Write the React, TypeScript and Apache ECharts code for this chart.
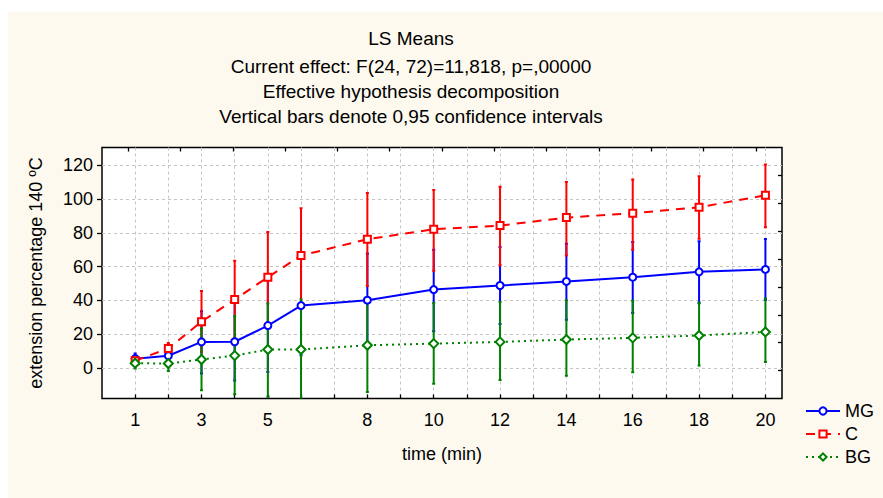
import React, { useEffect, useRef } from "react";
import * as echarts from "echarts";

const FONT = '"Liberation Sans", Arial, sans-serif';

const times = [1, 2, 3, 4, 5, 6, 8, 10, 12, 14, 16, 18, 20];
const xTickValues = [1, 2, 3, 4, 5, 6, 7, 8, 9, 10, 11, 12, 13, 14, 15, 16, 17, 18, 19, 20];
const xLabelValues = [1, 3, 5, 8, 10, 12, 14, 16, 18, 20];
const yLabelValues = [0, 20, 40, 60, 80, 100, 120];

const mgMean = [5.5, 7.2, 15.4, 15.5, 25.1, 36.9, 40.1, 46.4, 48.8, 51.2, 53.7, 56.9, 58.3];
const mgLow = [2.5, 3.5, -3.3, -7.5, -2.4, 7.5, 12.5, 21.7, 26.0, 28.5, 32.5, 38.3, 40.2];
const mgHigh = [8.5, 11.0, 33.5, 38.5, 52.5, 66.3, 67.7, 70.0, 71.6, 73.5, 74.5, 75.0, 76.4];

const cMean = [4.3, 11.5, 27.4, 40.5, 53.7, 66.5, 76.2, 82.1, 84.3, 89.0, 91.6, 95.1, 102.2];
const cLow = [1.3, 8.0, 9.4, 17.6, 26.9, 38.0, 48.5, 57.5, 60.8, 66.5, 70.0, 76.5, 83.3];
const cHigh = [7.3, 14.8, 45.6, 63.4, 80.5, 94.6, 103.6, 105.4, 107.2, 110.1, 111.5, 113.5, 120.4];

const bgMean = [2.8, 2.6, 5.0, 7.3, 10.9, 10.9, 13.4, 14.4, 15.4, 16.8, 17.8, 19.2, 21.3];
const bgLow = [-0.4, -1.8, -13.2, -15.6, -17.0, -18.7, -14.2, -9.4, -7.2, -4.6, -2.6, 1.5, 3.5];
const bgHigh = [6.0, 7.0, 23.3, 30.6, 38.1, 40.5, 40.5, 38.5, 39.1, 40.1, 39.7, 38.7, 41.1];

const titleLines = [
  "LS Means",
  "Current effect: F(24, 72)=11,818, p=,00000",
  "Effective hypothesis decomposition",
  "Vertical bars denote 0,95 confidence intervals",
];

const BLUE = "#0000ff";
const RED = "#ff0000";
const GREEN = "#008000";

function errorSeries(name: string, low: number[], high: number[], color: string) {
  const data = times.map((t, i) => [t, low[i], high[i]]);
  return {
    type: "custom",
    name,
    xAxisIndex: 0,
    yAxisIndex: 0,
    clip: true,
    z: 2,
    encode: { x: 0, y: [1, 2] },
    data,
    renderItem: (params: any, api: any) => {
      const x = api.value(0);
      const p1 = api.coord([x, api.value(1)]);
      const p2 = api.coord([x, api.value(2)]);
      const cap = 1.5;
      const st = { stroke: color, lineWidth: 2 };
      return {
        type: "group",
        children: [
          { type: "line", shape: { x1: p1[0], y1: p1[1], x2: p2[0], y2: p2[1] }, style: st },
          { type: "line", shape: { x1: p1[0] - cap, y1: p1[1], x2: p1[0] + cap, y2: p1[1] }, style: st },
          { type: "line", shape: { x1: p2[0] - cap, y1: p2[1], x2: p2[0] + cap, y2: p2[1] }, style: st },
        ],
      };
    },
  };
}

function lineSeries(name: string, mean: number[], color: string, symbol: string, size: number, type: any) {
  return {
    type: "line",
    name,
    xAxisIndex: 0,
    yAxisIndex: 0,
    z: 3,
    data: times.map((t, i) => [t, mean[i]]),
    symbol,
    symbolSize: size,
    showAllSymbol: true,
    itemStyle: { color: "#fff", borderColor: color, borderWidth: 2 },
    lineStyle: { color, width: 2, type },
  };
}

export default function App() {
  const ref = useRef<HTMLDivElement>(null);
  useEffect(() => {
    if (!ref.current) return;
    const chart = echarts.init(ref.current, undefined, { renderer: "svg" });
    const gridLine = { show: true, lineStyle: { color: "#c4c4c4", type: [3, 3], width: 1 } };
    const tickStyle = { color: "#000", width: 1.3 };
    const option: any = {
      animation: false,
      textStyle: { fontFamily: FONT },
      graphic: [
        {
          type: "rect",
          z: -100,
          silent: true,
          shape: { x: 8, y: 12, width: 875, height: 486 },
          style: { fill: "#fdf9ef" },
        },
        ...titleLines.map((t, i) => ({
          type: "text",
          x: 411,
          y: [38, 66, 91, 116][i],
          style: {
            text: t,
            font: `19px ${FONT}`,
            fill: "#000",
            textAlign: "center",
            textVerticalAlign: "middle",
          },
        })),
      ],
      grid: {
        left: 102,
        right: 101,
        top: 147.5,
        bottom: 99.5,
        show: true,
        backgroundColor: "#fff",
        borderColor: "#000",
        borderWidth: 1.5,
      },
      legend: {
        data: ["MG", "C", "BG"],
        orient: "vertical",
        left: 800,
        top: 397,
        itemWidth: 34,
        itemHeight: 9,
        itemGap: 5,
        textStyle: { fontFamily: FONT, fontSize: 18, color: "#000" },
      },
      xAxis: [
        {
          type: "value",
          position: "bottom",
          min: 0,
          max: 20.5,
          minInterval: 1,
          maxInterval: 1,
          axisLine: { show: false, onZero: false },
          axisTick: {
            show: true,
            inside: true,
            length: 4,
            customValues: xTickValues,
            lineStyle: tickStyle,
          },
          axisLabel: { customValues: xLabelValues, fontSize: 18, color: "#000", margin: 12, fontFamily: FONT },
          splitLine: gridLine,
          name: "time (min)",
          nameLocation: "middle",
          nameGap: 46,
          nameTextStyle: { fontSize: 18, color: "#000", fontFamily: FONT },
        },
        {
          type: "value",
          position: "top",
          min: 0,
          max: 13,
          axisLine: { show: false, onZero: false },
          axisTick: {
            show: true,
            inside: true,
            length: 4,
            customValues: [0.5, 1.5, 2.5, 3.5, 4.5, 5.5, 6.5, 7.5, 8.5, 9.5, 10.5, 11.5, 12.5],
            lineStyle: tickStyle,
          },
          axisLabel: { show: false },
          splitLine: { show: false },
        },
      ],
      yAxis: [
        {
          type: "value",
          position: "left",
          min: -18.1,
          max: 130.5,
          minInterval: 20,
          maxInterval: 20,
          axisLine: { show: false, onZero: false },
          axisTick: {
            show: true,
            inside: false,
            length: 5,
            customValues: yLabelValues,
            lineStyle: tickStyle,
          },
          axisLabel: { customValues: yLabelValues, fontSize: 18, color: "#000", margin: 9, fontFamily: FONT },
          splitLine: gridLine,
          name: "extension percentage 140 ºC",
          nameLocation: "middle",
          nameGap: 57,
          nameTextStyle: { fontSize: 18, color: "#000", fontFamily: FONT },
        },
        {
          type: "value",
          position: "right",
          min: 0,
          max: 9,
          axisLine: { show: false, onZero: false },
          axisTick: {
            show: true,
            inside: true,
            length: 4,
            customValues: [1, 2, 3, 4, 5, 6, 7, 8],
            lineStyle: tickStyle,
          },
          axisLabel: { show: false },
          splitLine: { show: false },
        },
      ],
      series: [
        errorSeries("MG err", mgLow, mgHigh, BLUE),
        errorSeries("C err", cLow, cHigh, RED),
        errorSeries("BG err", bgLow, bgHigh, GREEN),
        lineSeries("MG", mgMean, BLUE, "circle", 7, "solid"),
        lineSeries("C", cMean, RED, "rect", 7, [9, 7]),
        lineSeries("BG", bgMean, GREEN, "diamond", 9, [2, 4]),
      ],
    };
    chart.setOption(option);
    return () => chart.dispose();
  }, []);
  return (
    <div
      ref={ref}
      style={{ position: "fixed", left: 0, top: 0, width: 883, height: 498, background: "#fff" }}
    />
  );
}
